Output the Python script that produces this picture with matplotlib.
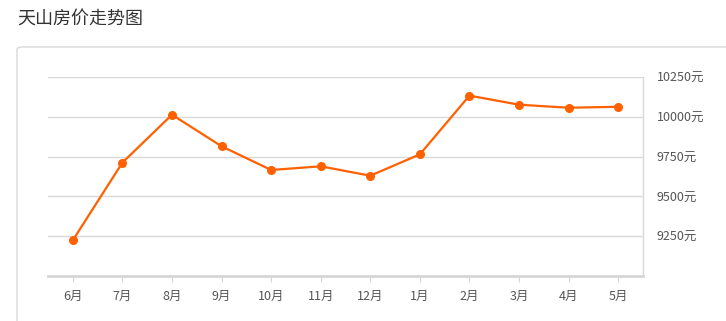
import matplotlib.pyplot as plt
from matplotlib.patches import FancyBboxPatch

plt.rcParams['font.family'] = ['Noto Sans CJK SC', 'DejaVu Sans']

months = ['6月', '7月', '8月', '9月', '10月', '11月', '12月', '1月', '2月', '3月', '4月', '5月']
prices = [9224, 9712, 10013, 9815, 9666, 9689, 9630, 9764, 10133, 10076, 10057, 10063]
yticks = [9250, 9500, 9750, 10000, 10250]

fig = plt.figure(figsize=(7.26, 3.21), dpi=100)

# card frame behind the chart
card = FancyBboxPatch((17/726, -0.2), 0.99, (321-47)/321 + 0.2,
                      boxstyle='round,pad=0,rounding_size=0.008',
                      transform=fig.transFigure, facecolor='white',
                      edgecolor='#d9d9d9', linewidth=1, zorder=-5)
fig.patches.append(card)

fig.text(17/726, 1 - 20/321, '天山房价走势图', fontsize=13, color='#333333',
         va='center', ha='left')

ax = fig.add_axes([48/726, 45/321, 595/726, 199/321])
ax.set_facecolor('none')
x = range(len(months))
ax.plot(x, prices, color='#ff6000', lw=1.6, marker='o', ms=5.5, zorder=3)

ax.set_xlim(-0.5, len(months) - 0.5)
ax.set_ylim(9000, 10250)
ax.set_xticks(list(x))
ax.set_xticklabels(months)
ax.set_yticks(yticks)
ax.set_yticklabels([f'{v}元' for v in yticks])
ax.yaxis.tick_right()
ax.grid(axis='y', color='#d9d9d9', lw=1)
ax.set_axisbelow(True)

for s in ['left', 'top']:
    ax.spines[s].set_visible(False)
ax.spines['right'].set_color('#d9d9d9')
ax.spines['right'].set_linewidth(1)
ax.spines['bottom'].set_color('#d6d6d6')
ax.spines['bottom'].set_linewidth(2)

ax.tick_params(axis='x', length=4, color='#d6d6d6', labelsize=9, labelcolor='#555555', pad=6)
ax.tick_params(axis='y', length=0, labelsize=9, labelcolor='#555555', pad=10)

fig.savefig('out.png', dpi=100)
